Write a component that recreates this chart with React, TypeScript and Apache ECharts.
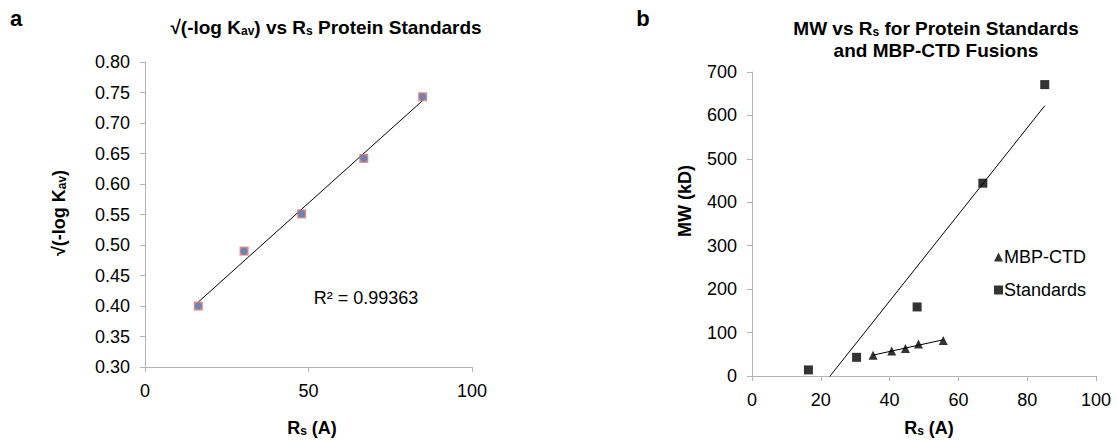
import React, { useEffect, useRef } from "react";
import * as echarts from "echarts";

// Panel a: sqrt(-log Kav) vs Rs for protein standards
const aRs = [16.3, 30.3, 47.9, 66.9, 84.9];
const aKav = [0.4, 0.49, 0.551, 0.642, 0.743];
const aXTicks = [0, 50, 100];
const aYTicks = [0.3, 0.35, 0.4, 0.45, 0.5, 0.55, 0.6, 0.65, 0.7, 0.75, 0.8];
const aR2 = "0.99363";

// Panel b: MW vs Rs
const bStdRs = [16.4, 30.4, 48.0, 67.1, 85.1];
const bStdMW = [14, 43, 159, 444, 671];
const bMbpRs = [35.2, 40.6, 44.6, 48.4, 55.6];
const bMbpMW = [47.5, 57.5, 63.6, 73.6, 82];
const bXTicks = [0, 20, 40, 60, 80, 100];
const bYTicks = [0, 100, 200, 300, 400, 500, 600, 700];

const FONT = "'Liberation Sans', Arial, sans-serif";
const AXIS_GRAY = "#b3b3b3";

function linFit(xs: number[], ys: number[]) {
  const n = xs.length;
  const mx = xs.reduce((s, v) => s + v, 0) / n;
  const my = ys.reduce((s, v) => s + v, 0) / n;
  let sxy = 0, sxx = 0;
  for (let i = 0; i < n; i++) {
    sxy += (xs[i] - mx) * (ys[i] - my);
    sxx += (xs[i] - mx) * (xs[i] - mx);
  }
  const b = sxy / sxx;
  const a = my - b * mx;
  const x0 = Math.min(...xs);
  const x1 = Math.max(...xs);
  return [[x0, a + b * x0], [x1, a + b * x1]];
}

const zip = (xs: number[], ys: number[]) => xs.map((x, i) => [x, ys[i]]);

const subRich = {
  sub: { fontSize: 12, fontWeight: "bold", fontFamily: FONT, fill: "#000", verticalAlign: "bottom", lineHeight: 12 },
};

function axisCommon(min: number, max: number, interval: number, fmt?: (v: number) => string) {
  return {
    type: "value",
    min,
    max,
    interval,
    splitLine: { show: false },
    axisLine: { show: true, lineStyle: { color: AXIS_GRAY, width: 1 } },
    axisTick: { show: true, length: 5, lineStyle: { color: AXIS_GRAY } },
    axisLabel: {
      color: "#000",
      fontSize: 18,
      fontFamily: FONT,
      margin: 15,
      formatter: fmt,
    },
  };
}

export default function App() {
  const ref = useRef<HTMLDivElement>(null);
  useEffect(() => {
    if (!ref.current) return;
    const chart = echarts.init(ref.current, undefined, { renderer: "svg" });
    const titleStyle = (text: string, x: number, y: number, size = 19) => ({
      type: "text",
      x,
      y,
      style: {
        text,
        fill: "#000",
        font: `bold ${size}px ${FONT}`,
        align: "center",
        verticalAlign: "middle",
        rich: subRich,
      },
    });
    const option: any = {
      animation: false,
      backgroundColor: "#fff",
      grid: [
        { left: 145, top: 62, width: 327, height: 305 },
        { left: 752, top: 72, width: 344, height: 304 },
      ],
      xAxis: [
        { ...axisCommon(aXTicks[0], aXTicks[aXTicks.length - 1], aXTicks[1] - aXTicks[0]), gridIndex: 0 },
        { ...axisCommon(bXTicks[0], bXTicks[bXTicks.length - 1], bXTicks[1] - bXTicks[0]), gridIndex: 1 },
      ],
      yAxis: [
        {
          ...axisCommon(aYTicks[0], aYTicks[aYTicks.length - 1], 0.05, (v: number) => v.toFixed(2)),
          gridIndex: 0,
        },
        { ...axisCommon(bYTicks[0], bYTicks[bYTicks.length - 1], bYTicks[1] - bYTicks[0]), gridIndex: 1 },
      ],
      legend: {
        orient: "vertical",
        left: 989,
        top: 243,
        itemWidth: 9,
        itemHeight: 9,
        itemGap: 15,
        textStyle: { fontSize: 18, fontFamily: FONT, color: "#000", padding: [0, 0, 0, -4] },
        data: [
          { name: "MBP-CTD", icon: "triangle" },
          { name: "Standards", icon: "rect" },
        ],
      },
      series: [
        {
          name: "a-fit",
          type: "line",
          xAxisIndex: 0,
          yAxisIndex: 0,
          data: linFit(aRs, aKav),
          symbol: "none",
          lineStyle: { color: "#000", width: 1 },
          z: 2,
        },
        {
          name: "a-sq",
          type: "scatter",
          xAxisIndex: 0,
          yAxisIndex: 0,
          data: zip(aRs, aKav),
          symbol: "rect",
          symbolSize: 9,
          itemStyle: { color: "#D06C6A" },
          z: 3,
        },
        {
          name: "a-dot",
          type: "scatter",
          xAxisIndex: 0,
          yAxisIndex: 0,
          data: zip(aRs, aKav),
          symbol: "circle",
          symbolSize: 7,
          itemStyle: { color: "#4F81BD" },
          z: 4,
        },
        {
          name: "Standards-fit",
          type: "line",
          xAxisIndex: 1,
          yAxisIndex: 1,
          data: linFit(bStdRs, bStdMW),
          symbol: "none",
          clip: true,
          lineStyle: { color: "#000", width: 1 },
        },
        {
          name: "MBP-fit",
          type: "line",
          xAxisIndex: 1,
          yAxisIndex: 1,
          data: linFit(bMbpRs, bMbpMW),
          symbol: "none",
          lineStyle: { color: "#000", width: 1 },
        },
        {
          name: "MBP-CTD",
          type: "scatter",
          xAxisIndex: 1,
          yAxisIndex: 1,
          data: zip(bMbpRs, bMbpMW),
          symbol: "triangle",
          symbolSize: 9,
          itemStyle: { color: "#000" },
        },
        {
          name: "Standards",
          type: "scatter",
          xAxisIndex: 1,
          yAxisIndex: 1,
          data: zip(bStdRs, bStdMW),
          symbol: "rect",
          symbolSize: 9,
          itemStyle: { color: "#000" },
        },
      ],
      graphic: [
        { type: "text", x: 16, y: 18, style: { text: "a", fill: "#000", font: `bold 22px ${FONT}`, align: "center", verticalAlign: "middle" } },
        { type: "text", x: 643, y: 18, style: { text: "b", fill: "#000", font: `bold 22px ${FONT}`, align: "center", verticalAlign: "middle" } },
        titleStyle("√(-log K{sub|av}) vs R{sub|s} Protein Standards", 326, 27),
        titleStyle("MW vs R{sub|s} for Protein Standards", 936, 28),
        titleStyle("and MBP-CTD Fusions", 936, 50),
        titleStyle("R{sub|s} (A)", 312, 428, 18),
        titleStyle("R{sub|s} (A)", 929, 428, 18),
        { ...titleStyle("√(-log K{sub|av})", 59, 213, 18), rotation: Math.PI / 2 },
        { ...titleStyle("MW (kD)", 685, 201, 18), rotation: Math.PI / 2 },
        {
          type: "text",
          x: 366,
          y: 298,
          style: {
            text: "R² = " + aR2,
            fill: "#000",
            font: `18px ${FONT}`,
            align: "center",
            verticalAlign: "middle",
          },
        },
      ],
    };
    chart.setOption(option);
    return () => chart.dispose();
  }, []);
  return (
    <div
      ref={ref}
      style={{ position: "absolute", left: 0, top: 0, width: 1117, height: 443, background: "#fff" }}
    />
  );
}
